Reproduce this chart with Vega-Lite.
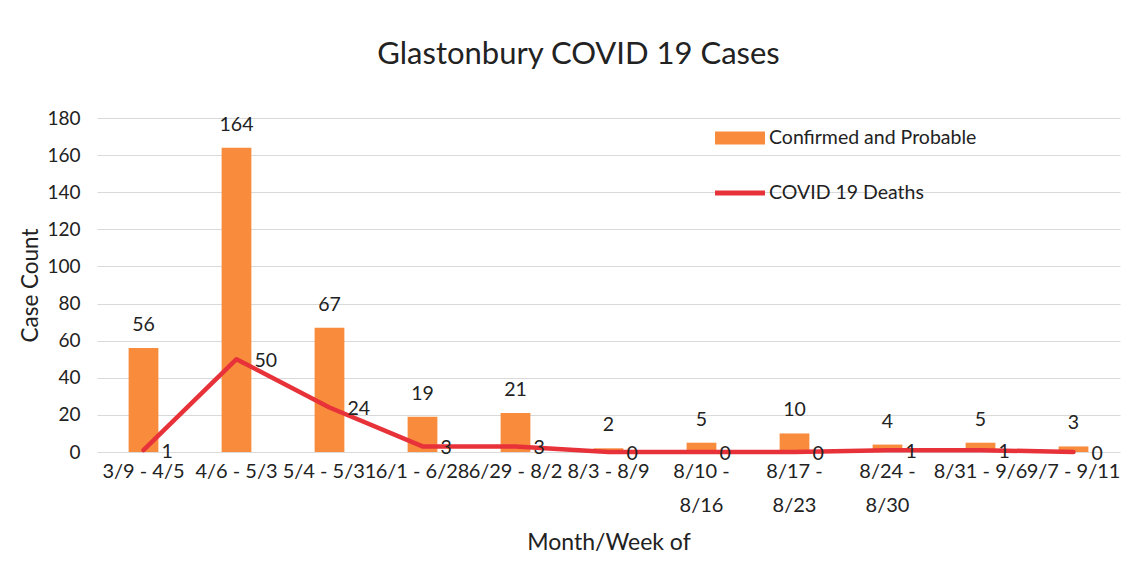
{
  "$schema": "https://vega.github.io/schema/vega-lite/v6.json",
  "width": 1023,
  "height": 334,
  "autosize": "none",
  "padding": {"left": 97, "top": 118, "right": 26, "bottom": 113},
  "background": "white",
  "title": {"text": "Glastonbury COVID 19 Cases", "font": "Lato", "fontSize": 31, "fontWeight": "normal", "color": "#222", "offset": 38, "dx": -30, "anchor": "middle"},
  "config": {"view": {"stroke": null}, "font": "Lato"},
  "data": {"values": [
    {"period": "3/9 - 4/5", "cases": 56, "deaths": 1},
    {"period": "4/6 - 5/3", "cases": 164, "deaths": 50},
    {"period": "5/4 - 5/31", "cases": 67, "deaths": 24},
    {"period": "6/1 - 6/28", "cases": 19, "deaths": 3},
    {"period": "6/29 - 8/2", "cases": 21, "deaths": 3},
    {"period": "8/3 - 8/9", "cases": 2, "deaths": 0},
    {"period": "8/10 - 8/16", "cases": 5, "deaths": 0},
    {"period": "8/17 - 8/23", "cases": 10, "deaths": 0},
    {"period": "8/24 - 8/30", "cases": 4, "deaths": 1},
    {"period": "8/31 - 9/6", "cases": 5, "deaths": 1},
    {"period": "9/7 - 9/11", "cases": 3, "deaths": 0}
  ]},
  "encoding": {
    "x": {"field": "period", "type": "nominal", "sort": null,
      "scale": {"paddingInner": 0.68, "paddingOuter": 0.34},
      "axis": {"title": "Month/Week of", "titleFont": "Lato", "titleFontSize": 23, "titleFontWeight": "normal", "titleColor": "#222", "titlePadding": 16,
        "labelAngle": 0, "labelFont": "Lato", "labelFontSize": 20, "labelColor": "#222", "labelPadding": 9, "labelOverlap": false, "labelBound": false,
        "labelLineHeight": 34,
        "labelExpr": "length(datum.label) > 10 ? [slice(datum.label, 0, 6), slice(datum.label, 7)] : datum.label",
        "domain": false, "ticks": false}}
  },
  "layer": [
    {
      "mark": {"type": "bar"},
      "encoding": {
        "y": {"field": "cases", "type": "quantitative",
          "scale": {"domain": [0, 180], "nice": false},
          "axis": {"title": "Case Count", "titleFont": "Lato", "titleFontSize": 22.5, "titleFontWeight": "normal", "titleColor": "#222", "titlePadding": 4,
            "values": [0, 20, 40, 60, 80, 100, 120, 140, 160, 180], "labelOverlap": false,
            "labelFont": "Lato", "labelFontSize": 19, "labelColor": "#222", "labelPadding": 17,
            "grid": true, "gridColor": "#d9d9d9", "domain": false, "ticks": false}},
        "color": {"datum": "Confirmed and Probable", "type": "nominal",
          "scale": {"domain": ["Confirmed and Probable", "COVID 19 Deaths"], "range": ["#f88b3c", "#e8323a"]},
          "legend": {"title": null, "orient": "none", "legendX": 618, "legendY": -5,
            "symbolSize": 2500, "rowPadding": 20, "labelOffset": 4, "labelLimit": 0,
            "labelFont": "Lato", "labelFontSize": 19.5, "labelColor": "#222",
            "encode": {"symbols": {"update": {
              "shape": {"signal": "datum.value == 'COVID 19 Deaths' ? 'M-1,-0.1H1V0.1H-1Z' : 'M-1,-0.26H1V0.26H-1Z'"},
              "fill": {"signal": "datum.value == 'COVID 19 Deaths' ? '#e8323a' : '#f88b3c'"},
              "fillOpacity": {"value": 1},
              "strokeWidth": {"value": 0}}}}}}
      }
    },
    {
      "mark": {"type": "text", "baseline": "bottom", "dy": -13, "font": "Lato", "fontSize": 19.5, "color": "#222"},
      "encoding": {
        "y": {"field": "cases", "type": "quantitative",
          "axis": {"title": "Case Count", "titleFont": "Lato", "titleFontSize": 22.5, "titleFontWeight": "normal", "titleColor": "#222", "titlePadding": 4,
            "values": [0, 20, 40, 60, 80, 100, 120, 140, 160, 180], "labelOverlap": false,
            "labelFont": "Lato", "labelFontSize": 19, "labelColor": "#222", "labelPadding": 17,
            "grid": true, "gridColor": "#d9d9d9", "domain": false, "ticks": false}},
        "text": {"field": "cases", "type": "quantitative"}
      }
    },
    {
      "mark": {"type": "line", "strokeWidth": 4.5, "strokeJoin": "round", "strokeCap": "round"},
      "encoding": {
        "y": {"field": "deaths", "type": "quantitative",
          "axis": {"title": "Case Count", "titleFont": "Lato", "titleFontSize": 22.5, "titleFontWeight": "normal", "titleColor": "#222", "titlePadding": 4,
            "values": [0, 20, 40, 60, 80, 100, 120, 140, 160, 180], "labelOverlap": false,
            "labelFont": "Lato", "labelFontSize": 19, "labelColor": "#222", "labelPadding": 17,
            "grid": true, "gridColor": "#d9d9d9", "domain": false, "ticks": false}},
        "color": {"datum": "COVID 19 Deaths", "type": "nominal"}
      }
    },
    {
      "mark": {"type": "text", "align": "left", "baseline": "middle", "dx": 18, "dy": 2, "font": "Lato", "fontSize": 19.5, "color": "#222"},
      "encoding": {
        "y": {"field": "deaths", "type": "quantitative",
          "axis": {"title": "Case Count", "titleFont": "Lato", "titleFontSize": 22.5, "titleFontWeight": "normal", "titleColor": "#222", "titlePadding": 4,
            "values": [0, 20, 40, 60, 80, 100, 120, 140, 160, 180], "labelOverlap": false,
            "labelFont": "Lato", "labelFontSize": 19, "labelColor": "#222", "labelPadding": 17,
            "grid": true, "gridColor": "#d9d9d9", "domain": false, "ticks": false}},
        "text": {"field": "deaths", "type": "quantitative"}
      }
    }
  ]
}
